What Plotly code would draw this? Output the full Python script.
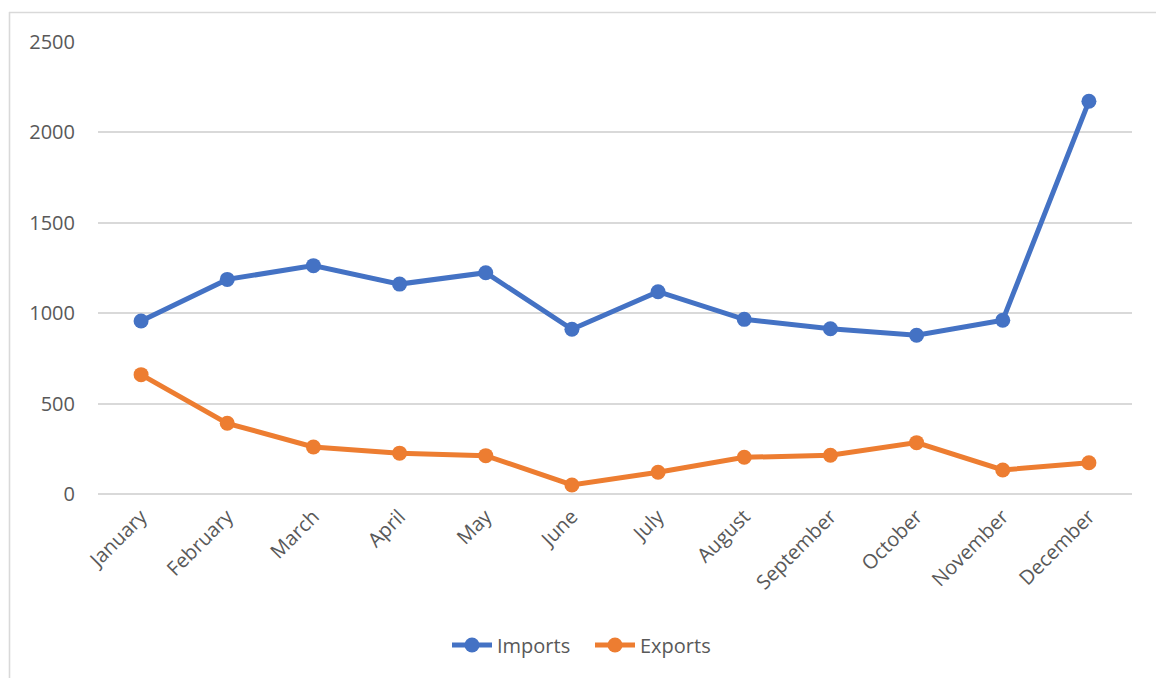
import plotly.graph_objects as go

months = ["January", "February", "March", "April", "May", "June", "July",
          "August", "September", "October", "November", "December"]
imports = [957, 1187, 1263, 1161, 1224, 911, 1119, 966, 914, 878, 961, 2172]
exports = [660, 391, 260, 226, 212, 50, 120, 203, 214, 284, 133, 173]
y_ticks = [0, 500, 1000, 1500, 2000, 2500]

BLUE = "#4472C4"
ORANGE = "#ED7D31"
GRID = "#D9D9D9"
TEXT = "#595959"
FONT = "Open Sans"

fig = go.Figure()
fig.add_trace(go.Scatter(x=months, y=imports, name="Imports", mode="lines+markers",
                         line=dict(color=BLUE, width=5),
                         marker=dict(color=BLUE, size=15)))
fig.add_trace(go.Scatter(x=months, y=exports, name="Exports", mode="lines+markers",
                         line=dict(color=ORANGE, width=5),
                         marker=dict(color=ORANGE, size=15)))

W, H = 1156, 678
L, R, T, B = 98, 24, 42, 184
pw, ph = W - L - R, H - T - B

def px_x(p):
    return (p - L) / pw

def px_y(p):
    return (H - B - p) / ph

fig.update_layout(
    width=W, height=H,
    margin=dict(l=L, r=R, t=T, b=B, autoexpand=False),
    paper_bgcolor="white", plot_bgcolor="white",
    font=dict(family=FONT, size=20, color=TEXT),
    showlegend=True,
    legend=dict(orientation="h", x=px_x(590), xanchor="center",
                y=px_y(645), yanchor="middle",
                font=dict(family=FONT, size=20, color=TEXT),
                itemwidth=40, entrywidth=88, entrywidthmode="pixels",
                tracegroupgap=0, bgcolor="rgba(0,0,0,0)"),
    xaxis=dict(type="category", range=[-0.5, 11.5], showgrid=False,
               showline=False, zeroline=False, ticks="", tickangle=-45,
               ticklabelstandoff=6,
               tickfont=dict(family=FONT, size=20, color=TEXT)),
    yaxis=dict(range=[0, 2500], tickvals=y_ticks, showgrid=True,
               gridcolor=GRID, gridwidth=1.6, zeroline=True,
               zerolinecolor=GRID, zerolinewidth=1.6, showline=False,
               ticks="", ticklabelstandoff=22,
               tickfont=dict(family=FONT, size=20, color=TEXT)),
    shapes=[
        dict(type="line", xref="paper", yref="paper",
             x0=px_x(9), x1=px_x(1160), y0=px_y(12.5), y1=px_y(12.5),
             line=dict(color=GRID, width=1.6), layer="below"),
        dict(type="line", xref="paper", yref="paper",
             x0=px_x(9.5), x1=px_x(9.5), y0=px_y(12), y1=px_y(690),
             line=dict(color=GRID, width=1.6), layer="below"),
    ],
)

fig.write_html("out.html", config={"displayModeBar": False},
               post_script="document.body.style.margin='0px';document.body.style.overflow='hidden';")
